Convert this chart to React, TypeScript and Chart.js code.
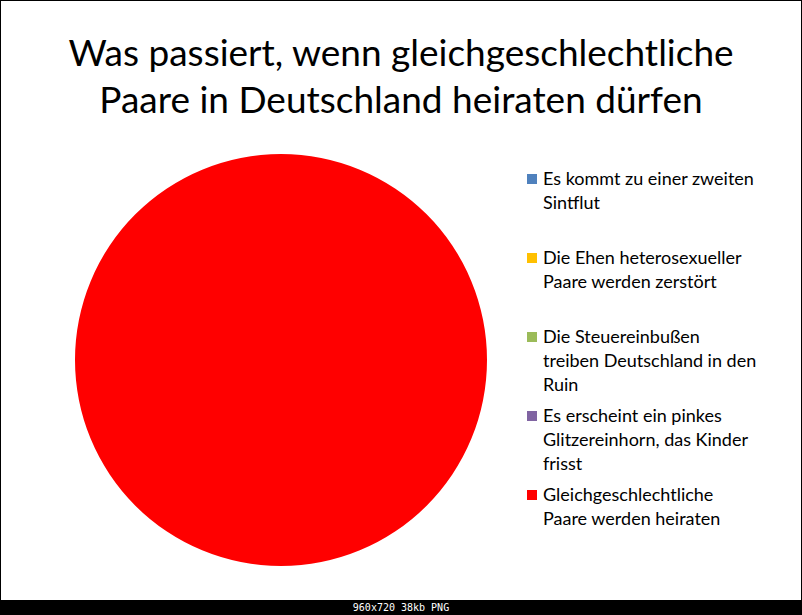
import React, { useEffect, useRef } from 'react';
import { Chart, registerables } from 'chart.js';

Chart.register(...registerables);

const titleLines = [
  'Was passiert, wenn gleichgeschlechtliche',
  'Paare in Deutschland heiraten dürfen',
];

// legend labels, one array per slice (line breaks as in the original)
const categories: string[][] = [
  ['Es kommt zu einer zweiten', 'Sintflut'],
  ['Die Ehen heterosexueller', 'Paare werden zerstört'],
  ['Die Steuereinbußen', 'treiben Deutschland in den', 'Ruin'],
  ['Es erscheint ein pinkes', 'Glitzereinhorn, das Kinder', 'frisst'],
  ['Gleichgeschlechtliche', 'Paare werden heiraten'],
];

const values = [0, 0, 0, 0, 100];

const sliceColors = ['#4F81BD', '#FFC000', '#9BBB59', '#8064A2', '#FF0000'];

const FONT = "Lato, 'Open Sans', sans-serif";

const PieChart: React.FC = () => {
  const canvasRef = useRef<HTMLCanvasElement | null>(null);

  useEffect(() => {
    if (!canvasRef.current) return;
    const chart = new Chart(canvasRef.current, {
      type: 'pie',
      data: {
        labels: categories.map(c => c.join(' ')),
        datasets: [{
          data: values,
          backgroundColor: sliceColors,
          borderWidth: 0,
        }],
      },
      options: {
        animation: false,
        responsive: false,
        maintainAspectRatio: false,
        layout: { padding: 0 },
        plugins: {
          legend: { display: false },
          title: { display: false },
          tooltip: { enabled: false },
        },
      },
    });
    return () => chart.destroy();
  }, []);

  return (
    <canvas
      ref={canvasRef}
      width={412}
      height={412}
      style={{ position: 'absolute', left: 74, top: 153, width: 412, height: 412 }}
    />
  );
};

export default function App() {
  return (
    <div style={{ position: 'fixed', left: 0, top: 0, width: 802, height: 615, background: '#000', overflow: 'hidden' }}>
      {/* slide area */}
      <div style={{ position: 'absolute', left: 0, top: 0, width: 800, height: 599, border: '1px solid #000', background: '#fff' }}>
        <div style={{ position: 'absolute', left: 0, top: 0, width: 800, height: 599 }}>
          {/* title */}
          <div style={{ position: 'absolute', left: 0, top: 27, width: 800, textAlign: 'center', fontFamily: FONT, fontSize: 37, lineHeight: '47px', color: '#000' }}>
            {titleLines.map(l => <div key={l}>{l}</div>)}
          </div>

          <PieChart />

          {/* legend */}
          {categories.map((lines, i) => (
            <div key={i} style={{ position: 'absolute', left: 526, top: 165 + i * 79, display: 'flex', alignItems: 'flex-start', fontFamily: FONT, fontSize: 18, lineHeight: '24px', color: '#000' }}>
              <span style={{ display: 'inline-block', width: 10, height: 10, marginTop: 8, marginRight: 6, background: sliceColors[i] }} />
              <div>
                {lines.map(l => <div key={l} style={{ whiteSpace: 'nowrap' }}>{l}</div>)}
              </div>
            </div>
          ))}
        </div>
      </div>
      {/* info bar */}
      <div style={{ position: 'absolute', left: 0, top: 601, width: 802, height: 14, textAlign: 'center', color: '#fff', fontFamily: "'DejaVu Sans Mono', monospace", fontSize: 10, lineHeight: '14px' }}>
        960x720 38kb PNG
      </div>
    </div>
  );
}
